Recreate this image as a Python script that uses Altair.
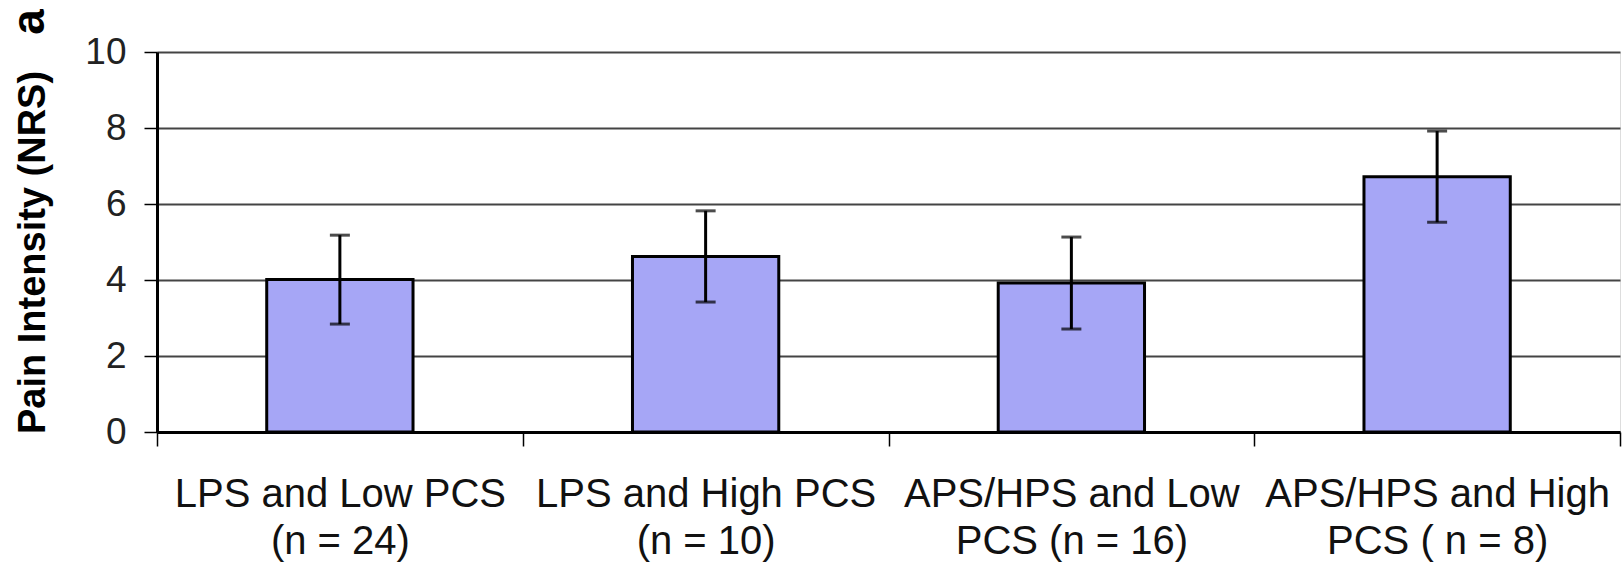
import altair as alt
import pandas as pd

categories = ["LPS and Low PCS|(n = 24)", "LPS and High PCS|(n = 10)",
              "APS/HPS and Low|PCS (n = 16)", "APS/HPS and High|PCS ( n = 8)"]
means = [4.01, 4.62, 3.92, 6.72]
errors = [1.17, 1.20, 1.21, 1.20]
y_ticks = [0, 2, 4, 6, 8, 10]

df = pd.DataFrame({"group": categories, "mean": means, "err": errors})

FONT = "Liberation Sans"

x_enc = alt.X(
    "group:N", sort=categories,
    scale=alt.Scale(paddingInner=0, paddingOuter=0),
    axis=alt.Axis(
        title=None, labelAngle=0, labelExpr="split(datum.label, '|')",
        labelFont=FONT, labelFontSize=40, labelLineHeight=47, labelColor="#111",
        labelLimit=0, labelPadding=28, tickBand="extent", ticks=True, tickSize=14,
        tickColor="black", tickWidth=1.5, domainColor="black", domainWidth=3,
        grid=False,
    ),
)
y_scale = alt.Scale(domain=[0, 10], nice=False)

base = alt.Chart(df).transform_calculate(
    lo="datum.mean - datum.err", hi="datum.mean + datum.err"
)

bars = base.mark_bar(width={"band": 0.4}, color="#a6a6f6", stroke="black", strokeWidth=3).encode(
    x=x_enc,
    y=alt.Y("mean:Q", scale=y_scale, axis=alt.Axis(
        values=y_ticks, grid=True, gridColor="#444", gridWidth=2,
        domainColor="black", domainWidth=3, tickColor="black", tickSize=13, tickWidth=1.5,
        labelFont=FONT, labelFontSize=37, labelColor="#222", labelPadding=18,
        title="Pain Intensity (NRS)", titleFont=FONT, titleFontSize=38,
        titleFontWeight="bold", titleColor="black", titleAngle=270,
        titleX=-124, titleY=200, titleAlign="center", titleBaseline="middle",
    )),
)

rule = base.mark_rule(color="black", strokeWidth=3).encode(
    x=alt.X("group:N", sort=categories), y=alt.Y("lo:Q", scale=y_scale), y2="hi:Q"
)
cap_lo = base.mark_tick(color="black", size=20, thickness=3).encode(
    x=alt.X("group:N", sort=categories), y=alt.Y("lo:Q", scale=y_scale)
)
cap_hi = base.mark_tick(color="black", size=20, thickness=3).encode(
    x=alt.X("group:N", sort=categories), y=alt.Y("hi:Q", scale=y_scale)
)

panel = alt.Chart(pd.DataFrame({"t": ["a"]})).mark_text(
    font=FONT, fontSize=46, fontWeight="bold", angle=270, align="center",
    baseline="middle", color="black",
).encode(text="t:N", x=alt.value(-127), y=alt.value(-30))

chart = alt.layer(bars, rule, cap_lo, cap_hi, panel).properties(
    width=1463, height=380,
    autosize=alt.AutoSizeParams(type="none"),
    padding={"left": 157, "top": 52, "right": 2, "bottom": 132},
).configure_view(stroke="black", strokeWidth=2).configure(background="white")

chart.save("out.html", embed_options={"renderer": "svg", "actions": False})
